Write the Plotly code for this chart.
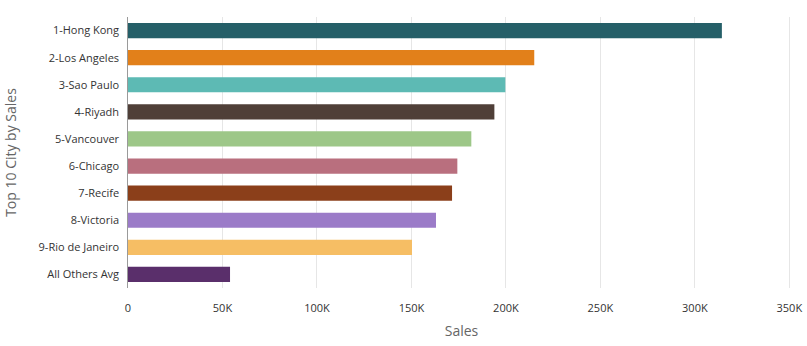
import plotly.graph_objects as go

# Top cities ranked by sales, plus the average of all remaining cities
cities = [
    "1-Hong Kong", "2-Los Angeles", "3-Sao Paulo", "4-Riyadh", "5-Vancouver",
    "6-Chicago", "7-Recife", "8-Victoria", "9-Rio de Janeiro", "All Others Avg",
]
sales = [314300, 215000, 199700, 193900, 181700, 174300, 171500, 163000, 150300, 54000]
colors = [
    "#255F68", "#E2801A", "#5DBAB4", "#4F3F38", "#9DC788",
    "#B96F7E", "#8B3F1A", "#9B7BC8", "#F6BE64", "#5A2F6B",
]
x_ticks = [0, 50000, 100000, 150000, 200000, 250000, 300000, 350000]
x_tick_labels = ["0", "50K", "100K", "150K", "200K", "250K", "300K", "350K"]

fig = go.Figure(
    go.Bar(
        x=sales,
        y=cities,
        orientation="h",
        marker=dict(color=colors, line=dict(width=0)),
        width=0.56,
        hovertemplate="%{y}: %{x:,.0f}<extra></extra>",
    )
)

fig.update_layout(
    width=807,
    height=346,
    margin=dict(l=128, r=12, t=17, b=58),
    paper_bgcolor="white",
    plot_bgcolor="white",
    font=dict(family="Open Sans, Lato, sans-serif", size=11, color="#333333"),
    showlegend=False,
    xaxis=dict(
        range=[0, 353000],
        tickvals=x_ticks,
        ticktext=x_tick_labels,
        automargin=False,
        showgrid=True,
        gridcolor="#E6E6E6",
        gridwidth=1,
        zeroline=False,
        showline=False,
        ticks="",
        ticklabelstandoff=12,
        tickfont=dict(size=11, color="#333333"),
        title=dict(text="Sales", font=dict(size=14, color="#666666"), standoff=12),
    ),
    yaxis=dict(
        categoryorder="array",
        categoryarray=cities[::-1],
        automargin=False,
        showgrid=False,
        zeroline=False,
        showline=True,
        linecolor="#9A9A9A",
        linewidth=1,
        ticks="",
        ticksuffix="  ",
        tickfont=dict(size=11, color="#333333"),
        title=dict(text="Top 10 City by Sales", font=dict(size=14, color="#666666"), standoff=18),
    ),
)

fig.write_html("out.html")
